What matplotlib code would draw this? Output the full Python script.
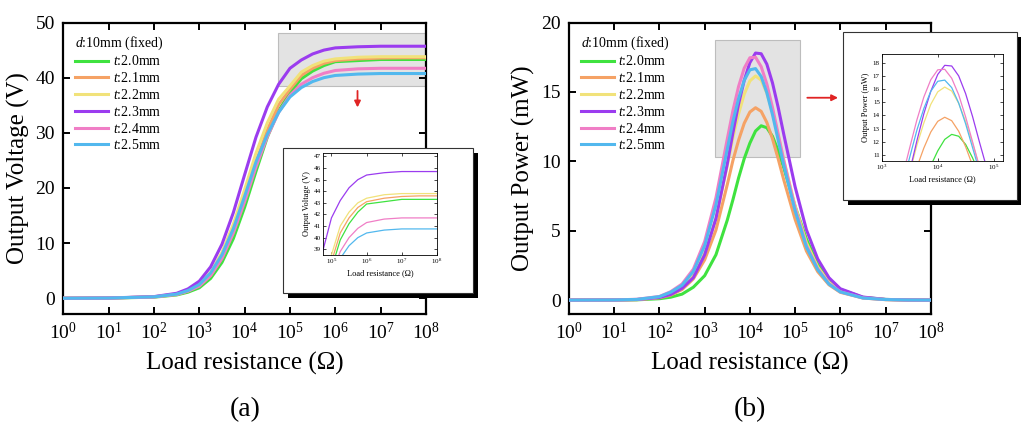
import numpy as np
import matplotlib
matplotlib.use('Agg')
import matplotlib.pyplot as plt
from matplotlib.patches import Rectangle
from matplotlib.ticker import NullLocator

plt.rcParams['font.family'] = ['Liberation Serif', 'DejaVu Serif']
plt.rcParams['mathtext.fontset'] = 'custom'
plt.rcParams['mathtext.rm'] = 'Liberation Serif'
plt.rcParams['mathtext.it'] = 'Liberation Serif:italic'

thickness = ['2.0', '2.1', '2.2', '2.3', '2.4', '2.5']
colors = ['#3fe23f', '#f5a265', '#f1e27a', '#9b3cef', '#f07ec6', '#52b8ee']

# log10 of the load resistance for the voltage sweep
logr_v = [0, 1, 2, 2.5, 2.75, 3, 3.25, 3.5, 3.75, 4, 4.25, 4.5, 4.75,
          5, 5.25, 5.5, 5.75, 6, 6.5, 7, 7.5, 8]
volt_20 = [0, 0.03, 0.2, 0.6, 1.1, 1.9, 3.6, 6.5, 10.8, 16.5, 23.0, 29.2, 34.0,
           37.3, 39.8, 41.2, 42.2, 42.9, 43.1, 43.3, 43.3, 43.3]
volt_21 = [0, 0.04, 0.25, 0.7, 1.3, 2.3, 4.2, 7.4, 12.2, 18.2, 24.7, 30.5, 35.1,
           37.9, 40.4, 41.7, 42.6, 43.1, 43.4, 43.55, 43.6, 43.6]
volt_22 = [0, 0.04, 0.27, 0.8, 1.5, 2.6, 4.7, 8.3, 13.4, 19.7, 26.3, 31.8, 36.1,
           38.5, 41.0, 42.2, 43.0, 43.4, 43.7, 43.8, 43.8, 43.8]
volt_23 = [0, 0.05, 0.3, 0.9, 1.7, 3.1, 5.7, 9.8, 15.5, 22.4, 29.2, 34.7, 38.8,
           41.7, 43.2, 44.3, 45.0, 45.4, 45.6, 45.7, 45.7, 45.7]
volt_24 = [0, 0.04, 0.25, 0.7, 1.3, 2.2, 4.1, 7.2, 11.8, 17.5, 23.8, 29.3, 33.7,
           36.8, 38.8, 40.0, 40.8, 41.3, 41.6, 41.7, 41.7, 41.7]
volt_25 = [0, 0.04, 0.26, 0.75, 1.4, 2.5, 4.6, 7.9, 12.6, 18.5, 24.7, 29.7, 33.7,
           36.5, 38.2, 39.3, 40.0, 40.4, 40.65, 40.75, 40.75, 40.75]

# log10 of the load resistance for the power sweep
logr_p = [0, 1, 1.5, 2, 2.25, 2.5, 2.75, 3, 3.25, 3.5, 3.625, 3.75, 3.875, 4,
          4.125, 4.25, 4.375, 4.5, 4.625, 4.75, 5, 5.25, 5.5, 5.75, 6, 6.5, 7, 7.5, 8]
power_20 = [0, 0.01, 0.02, 0.10, 0.21, 0.43, 0.93, 1.76, 3.27, 5.76, 7.23, 8.80, 10.19, 11.31,
            12.18, 12.56, 12.42, 11.80, 10.77, 9.52, 6.76, 4.41, 2.58, 1.46, 0.77, 0.20, 0.05, 0.01, 0]
power_21 = [0, 0.01, 0.03, 0.17, 0.36, 0.76, 1.53, 2.90, 5.05, 8.32, 10.06, 11.52, 12.74, 13.55,
            13.86, 13.60, 12.80, 11.62, 10.19, 8.66, 5.82, 3.54, 2.05, 1.10, 0.56, 0.15, 0.03, 0.01, 0]
power_22 = [0, 0.01, 0.04, 0.20, 0.42, 0.89, 1.78, 3.38, 5.89, 9.69, 11.72, 13.42, 14.84, 15.79,
            16.15, 15.85, 14.92, 13.54, 11.87, 10.09, 6.78, 4.13, 2.39, 1.28, 0.65, 0.18, 0.04, 0.01, 0]
power_23 = [0, 0.01, 0.04, 0.19, 0.40, 0.85, 1.62, 3.26, 5.88, 9.81, 12.06, 14.12, 15.83, 17.11,
            17.80, 17.75, 17.00, 15.65, 13.90, 11.94, 8.17, 5.07, 2.97, 1.61, 0.82, 0.22, 0.05, 0.01, 0]
power_24 = [0, 0.01, 0.06, 0.26, 0.61, 1.16, 2.23, 4.22, 7.38, 11.60, 13.65, 15.39, 16.71, 17.46,
            17.50, 16.82, 15.57, 13.88, 11.98, 10.05, 6.64, 3.94, 2.27, 1.19, 0.60, 0.16, 0.04, 0.01, 0]
power_25 = [0, 0.01, 0.05, 0.25, 0.57, 1.07, 2.07, 3.92, 6.86, 10.87, 12.87, 14.52, 15.83, 16.59,
            16.68, 16.11, 14.94, 13.36, 11.54, 9.72, 6.44, 3.83, 2.19, 1.15, 0.59, 0.15, 0.04, 0.01, 0]

voltages = [volt_20, volt_21, volt_22, volt_23, volt_24, volt_25]
powers = [power_20, power_21, power_22, power_23, power_24, power_25]

W, H = 1021, 428


def px_rect(x, y, w, h):
    # pixel box (top-left origin) -> figure fraction
    return [x / W, 1 - (y + h) / H, w / W, h / H]


def style_main(ax):
    ax.set_xscale('log')
    ax.set_xlim(1, 1e8)
    ax.set_xticks([10.0 ** k for k in range(9)])
    ax.xaxis.set_minor_locator(NullLocator())
    ax.tick_params(direction='in', top=True, right=True, length=5, width=1.4,
                   labelsize=14, pad=6)
    for s in ax.spines.values():
        s.set_linewidth(1.6)
    ax.set_xlabel('Load resistance (Ω)', fontsize=18, labelpad=6)


def style_inset(ax):
    ax.set_xscale('log')
    ax.xaxis.set_minor_locator(NullLocator())
    ax.tick_params(direction='in', top=True, right=True, length=2, width=0.5,
                   labelsize=5, pad=1.5)
    for s in ax.spines.values():
        s.set_linewidth(0.6)
    ax.set_xlabel('Load resistance (Ω)', fontsize=6, labelpad=2)


def add_box(fig, x, y, w, h):
    fig.patches.append(Rectangle(px_rect(x + 5, y + 5, w, h)[:2], w / W, h / H,
                                 transform=fig.transFigure, facecolor='black',
                                 edgecolor='none', zorder=2))
    fig.patches.append(Rectangle(px_rect(x, y, w, h)[:2], w / W, h / H,
                                 transform=fig.transFigure, facecolor='white',
                                 edgecolor='#333333', lw=0.8, zorder=3))


fig = plt.figure(figsize=(W / 100, H / 100), dpi=100)
ax1 = fig.add_axes([0.062, 0.2664, 0.3552, 0.681])
ax2 = fig.add_axes([0.5573, 0.2664, 0.3543, 0.681])

rv = 10.0 ** np.array(logr_v)
rp = 10.0 ** np.array(logr_p)

# (a) output voltage
for t, c, v in zip(thickness, colors, voltages):
    ax1.plot(rv, v, color=c, lw=2.2, label=rf'$t$:{t}mm', zorder=3)
style_main(ax1)
ax1.set_ylim(-2.85, 50)
ax1.set_yticks([0, 10, 20, 30, 40, 50])
ax1.set_ylabel('Output Voltage (V)', fontsize=18)
ax1.add_patch(Rectangle((10 ** 4.742, 38.4), 1e8 - 10 ** 4.742, 9.7,
                        facecolor='#e3e3e3', edgecolor='#bdbdbd', lw=0.8, zorder=1))
ax1.annotate('', xy=(10 ** 6.49, 34.6), xytext=(10 ** 6.49, 37.6),
             arrowprops=dict(arrowstyle='-|>', color='#e02424', lw=1.3,
                             mutation_scale=9, shrinkA=0, shrinkB=0))

# (b) output power
for t, c, p in zip(thickness, colors, powers):
    ax2.plot(rp, p, color=c, lw=2.2, label=rf'$t$:{t}mm', zorder=3)
style_main(ax2)
ax2.set_ylim(-1.0, 20)
ax2.set_yticks([0, 5, 10, 15, 20])
ax2.set_ylabel('Output Power (mW)', fontsize=18)
ax2.add_patch(Rectangle((10 ** 3.229, 10.32), 10 ** 5.11 - 10 ** 3.229, 8.39,
                        facecolor='#e3e3e3', edgecolor='#bdbdbd', lw=0.8, zorder=1))
ax2.annotate('', xy=(10 ** 5.95, 14.58), xytext=(10 ** 5.27, 14.58),
             arrowprops=dict(arrowstyle='-|>', color='#e02424', lw=1.3,
                             mutation_scale=9, shrinkA=0, shrinkB=0))

for ax in (ax1, ax2):
    ax.legend(title=r'$d$:10mm (fixed)', loc='upper left', frameon=False,
              fontsize=10, title_fontsize=10, handlelength=2.4,
              handletextpad=0.3, labelspacing=0.2, borderaxespad=0.45,
              alignment='left')

# zoomed views
add_box(fig, 283, 148, 190, 145)
ins1 = fig.add_axes(px_rect(323, 153, 114, 102), zorder=4)
for c, v in zip(colors, voltages):
    ins1.plot(rv, v, color=c, lw=0.9)
style_inset(ins1)
ins1.set_xlim(10 ** 4.76, 1e8)
ins1.set_xticks([1e5, 1e6, 1e7, 1e8])
ins1.set_ylim(38.5, 47.3)
ins1.set_yticks(range(39, 48))
ins1.set_ylabel('Output Voltage (V)', fontsize=6, labelpad=2)

add_box(fig, 843, 32, 174, 168)
ins2 = fig.add_axes(px_rect(882, 54, 121, 107), zorder=4)
for c, p in zip(colors, powers):
    ins2.plot(rp, p, color=c, lw=0.9)
style_inset(ins2)
ins2.set_xlim(1e3, 10 ** 5.17)
ins2.set_xticks([1e3, 1e4, 1e5])
ins2.set_ylim(10.54, 18.66)
ins2.set_yticks(range(11, 19))
ins2.set_ylabel('Output Power (mW)', fontsize=6, labelpad=2)

fig.text(0.24, 0.044, '(a)', ha='center', va='center', fontsize=20)
fig.text(0.7346, 0.044, '(b)', ha='center', va='center', fontsize=20)

fig.savefig('out.png', dpi=100, facecolor='white')
